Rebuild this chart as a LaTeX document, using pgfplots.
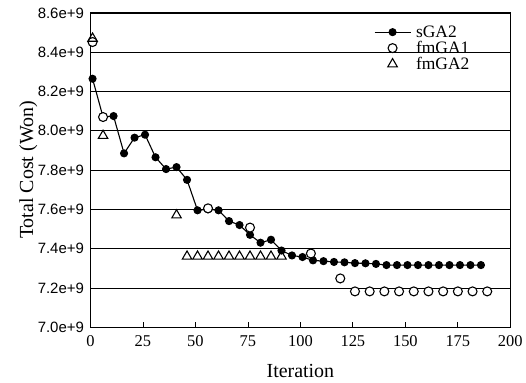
\documentclass[border=0pt]{standalone}
\usepackage{fontspec}
\setmainfont{Liberation Serif}
\newfontfamily\sansf{Liberation Sans}
\usepackage{pgfplots}
\pgfplotsset{compat=1.18}
\begin{document}
\begin{tikzpicture}
\begin{axis}[
  scale only axis, width=421pt, height=315pt,
  xmin=0, xmax=200, ymin=7.0e9, ymax=8.6e9,
  scaled y ticks=false,
  xtick={0,25,...,200},
  ytick={7.0e9,7.2e9,7.4e9,7.6e9,7.8e9,8.0e9,8.2e9,8.4e9,8.6e9},
  yticklabels={7.0e+9,7.2e+9,7.4e+9,7.6e+9,7.8e+9,8.0e+9,8.2e+9,8.4e+9,8.6e+9},
  /pgf/number format/assume math mode=true,
  xtick pos=bottom, tick align=inside, major tick length=5pt,
  ytick style={draw=none},
  xtick style={black, line width=0.8pt},
  ymajorgrids, grid style={black, line width=0.6pt},
  axis line style={black, line width=1.1pt},
  xticklabel style={font=\fontsize{16.5}{16.5}\selectfont, yshift=-5pt},
  yticklabel style={font=\sansf\fontsize{15}{15}\selectfont, xshift=-3pt},
  xlabel={Iteration}, ylabel={Total Cost (Won)},
  label style={font=\fontsize{20}{20}\selectfont},
  xlabel style={at={(axis description cs:0.5,-0.14)}, anchor=center},
  ylabel style={at={(axis description cs:-0.148,0.5)}, anchor=center},
  legend image code/.code={\draw[mark repeat=2,mark phase=2,#1] plot coordinates {(0pt,0pt) (18pt,0pt) (36pt,0pt)};},
  legend style={draw=none, fill=none, at={(axis description cs:0.675,0.965)}, anchor=north west,
    font=\fontsize{17.5}{16}\selectfont, inner sep=0pt, row sep=0pt, column sep=4pt,
    nodes={inner sep=1pt, text height=12pt, text depth=2pt}},
  legend cell align=left,
]
\addplot[black, line width=1.1pt, mark=*, mark size=3.5pt, mark options={fill=black}] coordinates {
(1,8.265e9) (6,8.07e9) (11,8.075e9) (16,7.885e9) (21,7.965e9) (26,7.98e9)
(31,7.865e9) (36,7.805e9) (41,7.815e9) (46,7.75e9) (51,7.595e9) (56,7.60e9)
(61,7.595e9) (66,7.54e9) (71,7.52e9) (76,7.47e9) (81,7.43e9) (86,7.445e9)
(91,7.39e9) (96,7.365e9) (101,7.357e9) (106,7.34e9) (111,7.336e9) (116,7.332e9)
(121,7.330e9) (126,7.326e9) (131,7.325e9) (136,7.322e9) (141,7.316e9) (146,7.316e9)
(151,7.316e9) (156,7.316e9) (161,7.316e9) (166,7.316e9) (171,7.316e9) (176,7.316e9)
(181,7.316e9) (186,7.316e9)
};
\addlegendentry{sGA2}
\addplot[only marks, black, line width=1.1pt, mark=*, mark size=4.5pt, mark options={fill=white, draw=black}] coordinates {
(1,8.452e9) (6,8.07e9) (56,7.605e9) (76,7.507e9) (105,7.375e9) (119,7.248e9)
(126,7.182e9) (133,7.182e9) (140,7.182e9) (147,7.182e9) (154,7.182e9) (161,7.182e9)
(168,7.182e9) (175,7.182e9) (182,7.182e9) (189,7.182e9)
};
\addlegendentry{fmGA1}
\addplot[only marks, black, line width=1.1pt, mark=triangle, mark size=5.5pt] coordinates {
(1,8.47e9) (6,7.975e9) (41,7.57e9) (46,7.36e9) (51,7.36e9) (56,7.36e9) (61,7.36e9)
(66,7.36e9) (71,7.36e9) (76,7.36e9) (81,7.36e9) (86,7.36e9) (91,7.36e9)
};
\addlegendentry{fmGA2}
\end{axis}
\path (current axis.south west) ++(-90.7pt,-56pt);
\path (current axis.north east) ++(14.5pt,13pt);
\end{tikzpicture}
\end{document}
